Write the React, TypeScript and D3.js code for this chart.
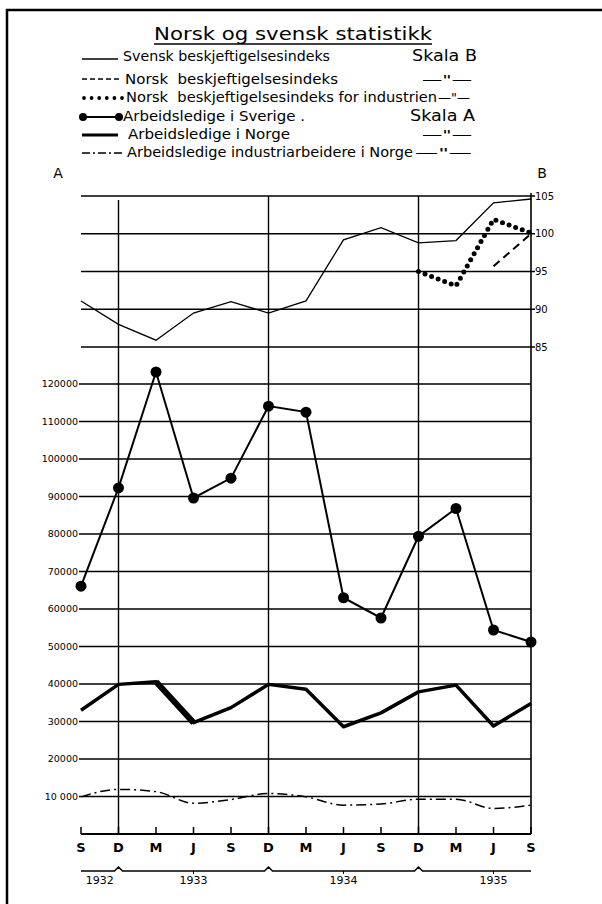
import React from "react";
import * as d3 from "d3";

// month codes along the x axis, Sept 1932 .. Sept 1935
const months = ["S", "D", "M", "J", "S", "D", "M", "J", "S", "D", "M", "J", "S"];
const years = ["1932", "1933", "1934", "1935"];
const yearAt = [0.5, 3, 7, 11]; // month index where each year label sits

// Skala B (index)
const svenskBeskj = [91.1, 88.0, 85.9, 89.5, 91.0, 89.5, 91.1, 99.2, 100.8, 98.8, 99.1, 104.1, 104.6];
const norskBeskj = [null, null, null, null, null, null, null, null, null, null, null, 95.7, 100.0];
const norskIndustri = [null, null, null, null, null, null, null, null, null, 95.0, 93.1, 101.9, 100.1];

// Skala A (persons)
const ledigeSverige = [66100, 92300, 123200, 89600, 94900, 114100, 112500, 63000, 57600, 79400, 86800, 54400, 51200];
const ledigeNorge = [33000, 39900, 40600, 29700, 33700, 39900, 38600, 28600, 32300, 37900, 39700, 28800, 34800];
const ledigeIndustriNorge = [9900, 11900, 11300, 8200, 9200, 10800, 9900, 7700, 8000, 9300, 9300, 6800, 7700];

const ticksA = [10000, 20000, 30000, 40000, 50000, 60000, 70000, 80000, 90000, 100000, 110000, 120000];
const labelsA = ["10 000", "20000", "30000", "40000", "50000", "60000", "70000", "80000", "90000", "100000", "110000", "120000"];
const ticksB = [85, 90, 95, 100, 105];

const legendLabels = [
  "Svensk beskjeftigelsesindeks",
  "Norsk  beskjeftigelsesindeks",
  "Norsk  beskjeftigelsesindeks for industrien",
  "Arbeidsledige i Sverige .",
  "Arbeidsledige i Norge",
  "Arbeidsledige industriarbeidere i Norge",
];
const legendNotes = ["Skala B", "—\"—", "—\"—", "Skala A", "—\"—", "—\"—"];

const W = 602;
const H = 904;
const font = "'DejaVu Sans', sans-serif";

export default function App() {
  const x = d3.scaleLinear().domain([0, months.length - 1]).range([81, 531]);
  const yA = d3.scaleLinear().domain([0, 120000]).range([834, 384]);
  const yB = d3.scaleLinear().domain([85, 105]).range([347, 196]);
  const top = yB(105);
  const bottom = yA(0);

  const lineB = d3
    .line<number | null>()
    .defined((d) => d != null)
    .x((_, i) => x(i))
    .y((d) => yB(d as number));
  const lineA = (offset = 0) =>
    d3
      .line<number>()
      .x((_, i) => x(i + offset))
      .y((d) => yA(d));
  const curvyA = d3
    .line<number>()
    .x((_, i) => x(i))
    .y((d) => yA(d))
    .curve(d3.curveMonotoneX);

  // legend geometry
  const rowBase = [61, 84, 102, 121, 139, 157];
  const rowLine = [59, 79, 98, 117, 135, 153];
  const textX = [123, 125, 126, 123, 128, 127];
  const textLen = [207, 213, 311, 182, 162, 286];
  const noteX = [412, 422, 438, 410, 422, 415];
  const noteLen = [65, 50, 32, 65, 50, 57];

  const legendSymbol = (i: number) => {
    const y = rowLine[i];
    switch (i) {
      case 0:
        return <line x1={82} x2={118} y1={y} y2={y} stroke="#000" strokeWidth={1.3} />;
      case 1:
        return <line x1={82} x2={122} y1={y} y2={y} stroke="#000" strokeWidth={1.3} strokeDasharray="5 3" />;
      case 2:
        return (
          <line x1={84} x2={123} y1={y} y2={y} stroke="#000" strokeWidth={3.8} strokeDasharray="0 7.6" strokeLinecap="round" />
        );
      case 3:
        return (
          <g>
            <line x1={83} x2={119} y1={y} y2={y} stroke="#000" strokeWidth={2} />
            <circle cx={83} cy={y} r={4} fill="#000" />
            <circle cx={119} cy={y} r={4} fill="#000" />
          </g>
        );
      case 4:
        return <line x1={82} x2={118} y1={y} y2={y} stroke="#000" strokeWidth={3.2} />;
      default:
        return <line x1={82} x2={122} y1={y} y2={y} stroke="#000" strokeWidth={1.3} strokeDasharray="8 3 2 3" />;
    }
  };

  // year brace under the month labels
  const braceY = 871;
  let brace = `M${x(0)},${braceY}`;
  [1, 5, 9].forEach((i) => {
    brace += ` L${x(i) - 4},${braceY} L${x(i)},${braceY - 4} L${x(i) + 4},${braceY}`;
  });
  brace += ` L${x(12)},${braceY}`;

  return (
    <div style={{ position: "absolute", left: 0, top: 0 }}>
      <svg width={W} height={H} style={{ display: "block", background: "#fff" }}>
        <rect width={W} height={H} fill="#fff" />
        {/* frame */}
        <path d={`M7,${H} L7,10 L${W},10`} fill="none" stroke="#000" strokeWidth={2.5} />

        {/* title */}
        <text x={154} y={40} fontFamily={font} fontSize={18} textLength={278} lengthAdjust="spacingAndGlyphs" fill="#000">
          Norsk og svensk statistikk
        </text>
        <line x1={154} x2={432} y1={44} y2={44} stroke="#000" strokeWidth={1.5} />

        {/* legend */}
        {legendLabels.map((lab, i) => (
          <g key={lab}>
            {legendSymbol(i)}
            <text
              x={textX[i]}
              y={rowBase[i]}
              fontFamily={font}
              fontSize={14}
              textLength={textLen[i]}
              lengthAdjust="spacingAndGlyphs"
              fill="#000"
              style={{ whiteSpace: "pre" }}
            >
              {lab}
            </text>
            <text
              x={noteX[i]}
              y={rowBase[i]}
              fontFamily={font}
              fontSize={i === 0 || i === 3 ? 15 : 12}
              textLength={noteLen[i]}
              lengthAdjust="spacingAndGlyphs"
              fill="#000"
            >
              {legendNotes[i]}
            </text>
          </g>
        ))}

        {/* scale letters */}
        <text x={58} y={178} fontFamily={font} fontSize={14} textAnchor="middle" fill="#000">A</text>
        <text x={542} y={178} fontFamily={font} fontSize={14} textAnchor="middle" fill="#000">B</text>

        {/* horizontal grid, scale B */}
        {ticksB.map((v) => (
          <g key={"b" + v}>
            <line x1={81} x2={535} y1={yB(v)} y2={yB(v)} stroke="#000" strokeWidth={1.3} />
            <text x={535} y={yB(v)} dy="0.35em" fontFamily={font} fontSize={10} fill="#000">
              {v}
            </text>
          </g>
        ))}
        {/* horizontal grid, scale A */}
        {ticksA.map((v, i) => (
          <g key={"a" + v}>
            <line x1={79} x2={531} y1={yA(v)} y2={yA(v)} stroke="#000" strokeWidth={1.3} />
            <text x={78} y={yA(v)} dy="0.35em" fontFamily={font} fontSize={9.5} textAnchor="end" fill="#000">
              {labelsA[i]}
            </text>
          </g>
        ))}

        {/* vertical lines at December */}
        {[1, 5, 9].map((i) => (
          <line key={"v" + i} x1={x(i)} x2={x(i)} y1={i === 1 ? top + 4 : top} y2={bottom} stroke="#000" strokeWidth={1.4} />
        ))}
        <line x1={x(12)} x2={x(12)} y1={top - 3} y2={bottom} stroke="#000" strokeWidth={1.6} />

        {/* x axis */}
        <line x1={x(0)} x2={x(12)} y1={bottom} y2={bottom} stroke="#000" strokeWidth={2} />
        {months.map((m, i) => (
          <g key={"m" + i}>
            <line x1={x(i)} x2={x(i)} y1={bottom} y2={bottom - 7} stroke="#000" strokeWidth={1.5} />
            <text x={x(i)} y={852} textAnchor="middle" fontFamily={font} fontSize={13} fontWeight="bold" fill="#000">
              {m}
            </text>
          </g>
        ))}
        <path d={brace} fill="none" stroke="#000" strokeWidth={1.5} />
        {[3, 7, 11].map((i) => (
          <line key={"yt" + i} x1={x(i)} x2={x(i)} y1={braceY} y2={braceY + 3} stroke="#000" strokeWidth={1} />
        ))}
        {years.map((yr, i) => (
          <text key={yr} x={x(yearAt[i])} y={884} textAnchor="middle" fontFamily={font} fontSize={11} fill="#000">
            {yr}
          </text>
        ))}

        {/* Skala B series */}
        <path d={lineB(svenskBeskj) || ""} fill="none" stroke="#000" strokeWidth={1.3} />
        <path d={lineB(norskBeskj) || ""} fill="none" stroke="#000" strokeWidth={2} strokeDasharray="8 5" />
        <path
          d={lineB(norskIndustri) || ""}
          fill="none"
          stroke="#000"
          strokeWidth={5}
          strokeDasharray="0 7"
          strokeLinecap="round"
        />

        {/* Skala A series */}
        <path d={curvyA(ledigeIndustriNorge) || ""} fill="none" stroke="#000" strokeWidth={1.5} strokeDasharray="10 4 2 4" />
        <path d={lineA()(ledigeNorge) || ""} fill="none" stroke="#000" strokeWidth={3.5} strokeLinejoin="round" />
        {/* the heavier stroke drawn between March and June 1933 */}
        <path d={lineA(2)(ledigeNorge.slice(2, 4)) || ""} fill="none" stroke="#000" strokeWidth={6} />
        <path d={lineA()(ledigeSverige) || ""} fill="none" stroke="#000" strokeWidth={2} />
        {ledigeSverige.map((d, i) => (
          <circle key={"c" + i} cx={x(i)} cy={yA(d)} r={5.5} fill="#000" />
        ))}
      </svg>
    </div>
  );
}
